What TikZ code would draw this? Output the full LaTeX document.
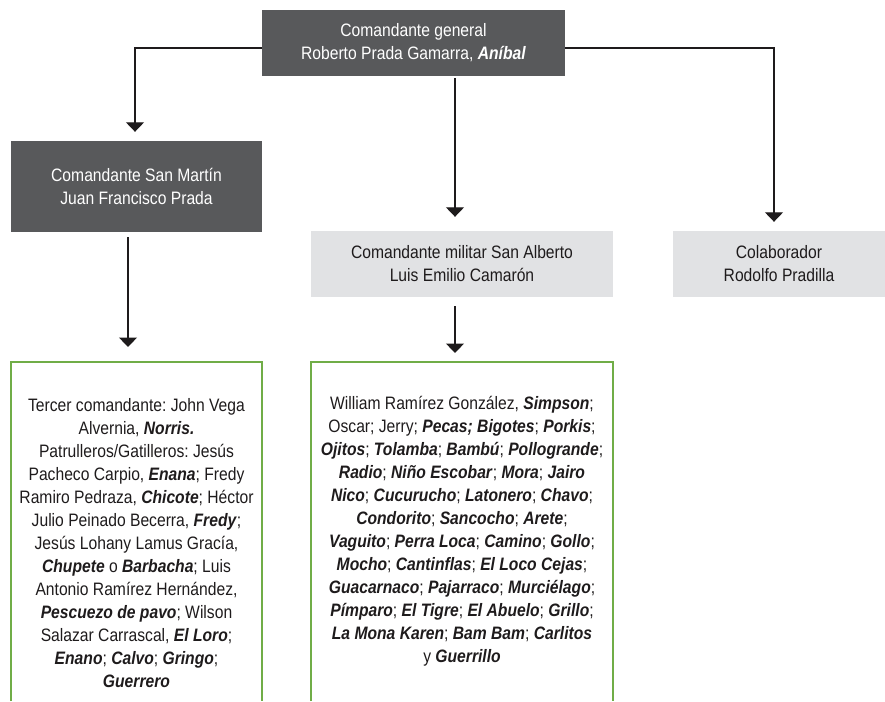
\documentclass[tikz,border=0pt]{standalone}
\usepackage{fontspec}
\setmainfont{Liberation Sans}[FakeStretch=0.87]
\usetikzlibrary{arrows.meta,calc}
\definecolor{darkbox}{HTML}{58595B}
\definecolor{lightbox}{HTML}{E1E2E4}
\definecolor{grn}{HTML}{70AD47}
\definecolor{ink}{HTML}{1E1B1C}
\newcommand{\nick}[1]{\textbf{\textit{#1}}}
\frenchspacing
\begin{document}
\begin{tikzpicture}[x=1pt,y=-1pt,
  font=\fontsize{18}{23}\selectfont,
  darkstyle/.style={fill=darkbox,text=white,align=center,inner sep=0pt},
  lightstyle/.style={fill=lightbox,text=ink,align=center,inner sep=0pt},
  listbox/.style={text=ink,align=center,inner sep=0pt},
  arr/.style={draw=ink,line width=1.1pt,-{Triangle[width=18pt,length=9.5pt]}},
  greenline/.style={draw=grn,line width=1.6pt}]
\useasboundingbox (0,0) rectangle (885,701);
\node[darkstyle,minimum width=303pt,minimum height=66pt] (top) at (413.5,43)
  {Comandante general\\Roberto Prada Gamarra, \nick{Aníbal}};
\node[darkstyle,minimum width=251pt,minimum height=91pt] (sm) at (136.5,186.5)
  {Comandante San Martín\\Juan Francisco Prada};
\node[lightstyle,minimum width=302pt,minimum height=66pt] (sa) at (462,264)
  {Comandante militar San Alberto\\Luis Emilio Camarón};
\node[lightstyle,minimum width=212pt,minimum height=66pt] (col) at (779,264)
  {Colaborador\\Rodolfo Pradilla};
\node[listbox,minimum width=251pt] (g1) at (136.5,543)
  {Tercer comandante: John Vega\\
   Alvernia, \nick{Norris.}\\
   Patrulleros/Gatilleros: Jesús\\
   Pacheco Carpio, \nick{Enana}; Fredy\\
   Ramiro Pedraza, \nick{Chicote}; Héctor\\
   Julio Peinado Becerra, \nick{Fredy};\\
   Jesús Lohany Lamus Gracía,\\
   \nick{Chupete} o \nick{Barbacha}; Luis\\
   Antonio Ramírez Hernández,\\
   \nick{Pescuezo de pavo}; Wilson\\
   Salazar Carrascal, \nick{El Loro};\\
   \nick{Enano}; \nick{Calvo}; \nick{Gringo};\\
   \nick{Guerrero}};
\node[listbox,minimum width=302pt] (g2) at (462,531.5)
  {William Ramírez González, \nick{Simpson};\\
   Oscar; Jerry; \nick{Pecas; Bigotes}; \nick{Porkis};\\
   \nick{Ojitos}; \nick{Tolamba}; \nick{Bambú}; \nick{Pollogrande};\\
   \nick{Radio}; \nick{Niño Escobar}; \nick{Mora}; \nick{Jairo}\\
   \nick{Nico}; \nick{Cucurucho}; \nick{Latonero}; \nick{Chavo};\\
   \nick{Condorito}; \nick{Sancocho}; \nick{Arete};\\
   \nick{Vaguito}; \nick{Perra Loca}; \nick{Camino}; \nick{Gollo};\\
   \nick{Mocho}; \nick{Cantinflas}; \nick{El Loco Cejas};\\
   \nick{Guacarnaco}; \nick{Pajarraco}; \nick{Murciélago};\\
   \nick{Pímparo}; \nick{El Tigre}; \nick{El Abuelo}; \nick{Grillo};\\
   \nick{La Mona Karen}; \nick{Bam Bam}; \nick{Carlitos}\\
   y \nick{Guerrillo}};
% green open boxes
\draw[greenline] (11,701) -- (11,362) -- (262,362) -- (262,701);
\draw[greenline] (311,701) -- (311,362) -- (613,362) -- (613,701);
\coordinate (g1top) at (128,362);
\coordinate (g2top) at (455,362);
% connectors
\draw[arr,shorten >=9pt] ([yshift=-5pt]top.west) -| ([xshift=-1.5pt]sm.north);
\draw[arr,shorten >=14pt,shorten <=2pt] ([xshift=-7pt]sa.north |- top.south) -- ([xshift=-7pt]sa.north);
\draw[arr,shorten >=9pt] ([yshift=-5pt]top.east) -| ([xshift=-5pt]col.north);
\draw[arr,shorten >=15pt,shorten <=5pt] ([xshift=-8.5pt]sm.south) -- (g1top);
\draw[arr,shorten >=9pt,shorten <=9pt] ([xshift=-7pt]sa.south) -- (g2top);
\end{tikzpicture}
\end{document}
